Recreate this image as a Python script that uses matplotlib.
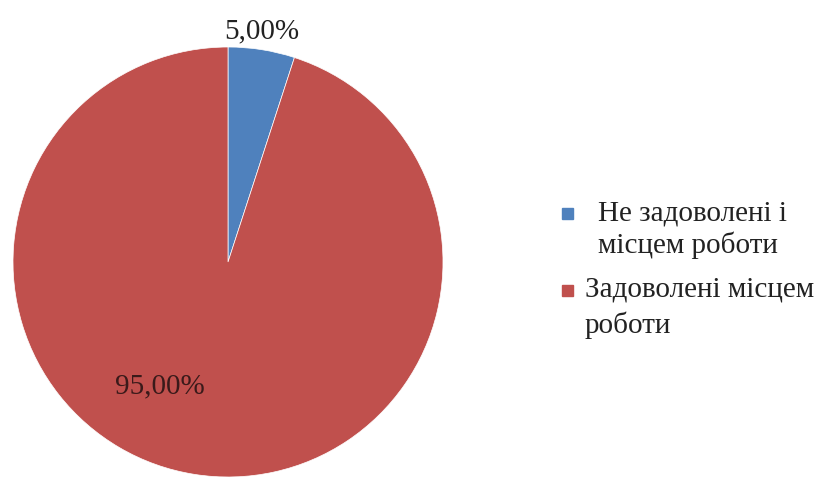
import matplotlib.pyplot as plt
from matplotlib.patches import Rectangle

# data
labels = ["Не задоволені і\nмісцем роботи", "Задоволені місцем\nроботи"]
values = [5.0, 95.0]
colors = ["#4F81BD", "#C0504D"]
pct_text = ["5,00%", "95,00%"]

plt.rcParams['font.family'] = ['Liberation Serif', 'DejaVu Serif']

W, H = 825, 478
fig = plt.figure(figsize=(W / 100, H / 100), dpi=100)

# pie centred at about (228, 262) px, radius 215 px
cx, cy, r = 228, 262, 215
ax = fig.add_axes([(cx - r) / W, (H - cy - r) / H, 2 * r / W, 2 * r / H])
ax.pie(values, colors=colors, startangle=90, counterclock=False, radius=1,
       wedgeprops=dict(linewidth=0.5, edgecolor='white'))
ax.set_xlim(-1, 1)
ax.set_ylim(-1, 1)
ax.axis('off')

# percentage labels
ax.text(0.158, 1.075, pct_text[0], ha='center', va='center', fontsize=21, color='#222222')
ax.text(-0.316, -0.577, pct_text[1], ha='center', va='center', fontsize=21, color='#3a1a1a')

# legend, drawn by hand so the square sits on the first line
entry_y = [[213, 245], [290, 325]]
text_x = [598, 585]
for i, lab in enumerate(labels):
    y0 = entry_y[i][0]
    fig.patches.append(Rectangle((562 / W, (H - y0 - 6) / H), 11 / W, 11 / H,
                                 transform=fig.transFigure, color=colors[i]))
    for j, line in enumerate(lab.split("\n")):
        fig.text(text_x[i] / W, (H - entry_y[i][j]) / H, line, ha='left', va='center',
                 fontsize=21, color='#222222')

fig.savefig('out.png', dpi=100)
